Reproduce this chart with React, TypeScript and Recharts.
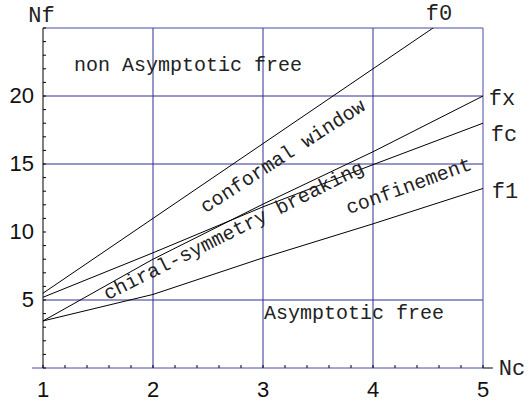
import React from 'react';
import {
  LineChart,
  Line,
  XAxis,
  YAxis,
  ReferenceLine,
  ReferenceDot,
} from 'recharts';

const ncGrid = [1, 2, 3, 4, 5];
const f0Vals = [5.5, 11, 16.5, 22, 27.5];
const fxVals = [3.46, 8.0, 12.05, 15.9, 20.0];
const fcVals = [5.2, 8.47, 11.85, 14.95, 18.0];
const f1Vals = [3.46, 5.41, 8.1, 10.6, 13.2];

const xTicks = [1, 1.2, 1.4, 1.6, 1.8, 2, 2.2, 2.4, 2.6, 2.8, 3, 3.2, 3.4, 3.6, 3.8, 4, 4.2, 4.4, 4.6, 4.8, 5];
const yTicks = [0, 1, 2, 3, 4, 5, 6, 7, 8, 9, 10, 11, 12, 13, 14, 15, 16, 17, 18, 19, 20, 21, 22, 23, 24, 25];
const xLabels = [1, 2, 3, 4, 5];
const yLabels = [5, 10, 15, 20];
const vGrid = [2, 3, 4];
const hGrid = [5, 15, 20];

const toPts = (vals: number[]) => ncGrid.map((x, i) => ({ x, y: vals[i] }));

const MONO = '"Liberation Mono", "DejaVu Sans Mono", monospace';
const SANS = '"Liberation Sans", Arial, sans-serif';
const GRID = '#2e2e90';

const XTick = ({ x, y, payload }: any) => {
  if (!xLabels.includes(payload.value)) return null;
  return (
    <text x={x} y={y + 29} textAnchor="middle" fontSize={22} fontFamily={SANS} fill="#111">
      {payload.value}
    </text>
  );
};

const YTick = ({ x, y, payload }: any) => {
  if (!yLabels.includes(payload.value)) return null;
  return (
    <text x={x} y={y + 7} textAnchor="end" fontSize={22} fontFamily={SANS} fill="#111">
      {payload.value}
    </text>
  );
};

// note: the Label passes its own "angle" prop, so the rotation goes in "rot"
const Anno = ({ viewBox, text, rot = 0, size = 20, shift = '0.28em' }: any) => {
  const { x, y } = viewBox;
  return (
    <text
      x={x}
      y={y}
      dy={shift}
      textAnchor="middle"
      fontSize={size}
      fontFamily={MONO}
      fill="#222"
      transform={rot ? `rotate(${rot} ${x} ${y})` : undefined}
    >
      {text}
    </text>
  );
};

// label anchors in data coordinates
const notes = [
  { x: 0.986, y: 26.03, text: 'Nf', size: 22, shift: '0.35em', rot: 0 },
  { x: 4.6, y: 26.18, text: 'f0', size: 22, shift: '0.35em', rot: 0 },
  { x: 5.173, y: 19.93, text: 'fx', size: 22, shift: '0.35em', rot: 0 },
  { x: 5.191, y: 17.28, text: 'fc', size: 22, shift: '0.35em', rot: 0 },
  { x: 5.2, y: 13.09, text: 'f1', size: 22, shift: '0.35em', rot: 0 },
  { x: 5.264, y: 0.07, text: 'Nc', size: 22, shift: '0.35em', rot: 0 },
  { x: 2.318, y: 22.24, text: 'non Asymptotic free', size: 20, shift: '0.28em', rot: 0 },
  { x: 3.827, y: 4.0, text: 'Asymptotic free', size: 20, shift: '0.28em', rot: 0 },
  { x: 3.182, y: 15.55, text: 'conformal window', size: 20, shift: '0.28em', rot: -33 },
  { x: 2.736, y: 10.07, text: 'chiral-symmetry breaking', size: 20, shift: '0.28em', rot: -26.5 },
  { x: 4.327, y: 13.35, text: 'confinement', size: 20, shift: '0.28em', rot: -20 },
];

export default function App() {
  return (
    <div style={{ position: 'absolute', left: 0, top: 0, background: '#fff' }}>
      <LineChart width={529} height={407} margin={{ top: 28, right: 46, left: 0, bottom: 0 }}>
        <XAxis
          type="number"
          dataKey="x"
          domain={[1, 5]}
          allowDataOverflow
          ticks={xTicks}
          interval={0}
          height={39}
          axisLine={false}
          tickSize={-3}
          tickMargin={3}
          tickLine={{ stroke: '#000' }}
          tick={<XTick />}
        />
        <YAxis
          type="number"
          domain={[0, 25]}
          allowDataOverflow
          ticks={yTicks}
          interval={0}
          width={43}
          axisLine={{ stroke: '#000' }}
          tickSize={-3}
          tickMargin={12}
          tickLine={{ stroke: '#000' }}
          tick={<YTick />}
        />
        {vGrid.map((v) => (
          <ReferenceLine key={'v' + v} x={v} stroke={GRID} strokeWidth={1} />
        ))}
        {hGrid.map((v) => (
          <ReferenceLine key={'h' + v} y={v} stroke={GRID} strokeWidth={1} />
        ))}
        <ReferenceLine x={5} stroke="#4a4aa6" strokeWidth={1} />
        <ReferenceLine y={25} stroke="#4a4aa6" strokeWidth={1} />
        <ReferenceLine
          segment={[{ x: 0.9, y: 0 }, { x: 5, y: 0 }]}
          stroke="#4a4aa6"
          strokeWidth={1}
          ifOverflow="visible"
        />
        <ReferenceLine
          segment={[{ x: 5, y: 0 }, { x: 5.09, y: 0 }]}
          stroke="#000"
          strokeWidth={1}
          ifOverflow="visible"
        />
        <Line data={toPts(f0Vals)} dataKey="y" stroke="#000" strokeWidth={1} dot={false} isAnimationActive={false} />
        <Line data={toPts(fxVals)} dataKey="y" stroke="#000" strokeWidth={1} dot={false} isAnimationActive={false} />
        <Line data={toPts(fcVals)} dataKey="y" stroke="#000" strokeWidth={1} dot={false} isAnimationActive={false} />
        <Line data={toPts(f1Vals)} dataKey="y" stroke="#000" strokeWidth={1} dot={false} isAnimationActive={false} />
        {notes.map((n) => (
          <ReferenceDot
            key={n.text}
            x={n.x}
            y={n.y}
            r={0}
            fill="none"
            stroke="none"
            ifOverflow="visible"
            label={<Anno text={n.text} size={n.size} shift={n.shift} rot={n.rot} />}
          />
        ))}
      </LineChart>
    </div>
  );
}
